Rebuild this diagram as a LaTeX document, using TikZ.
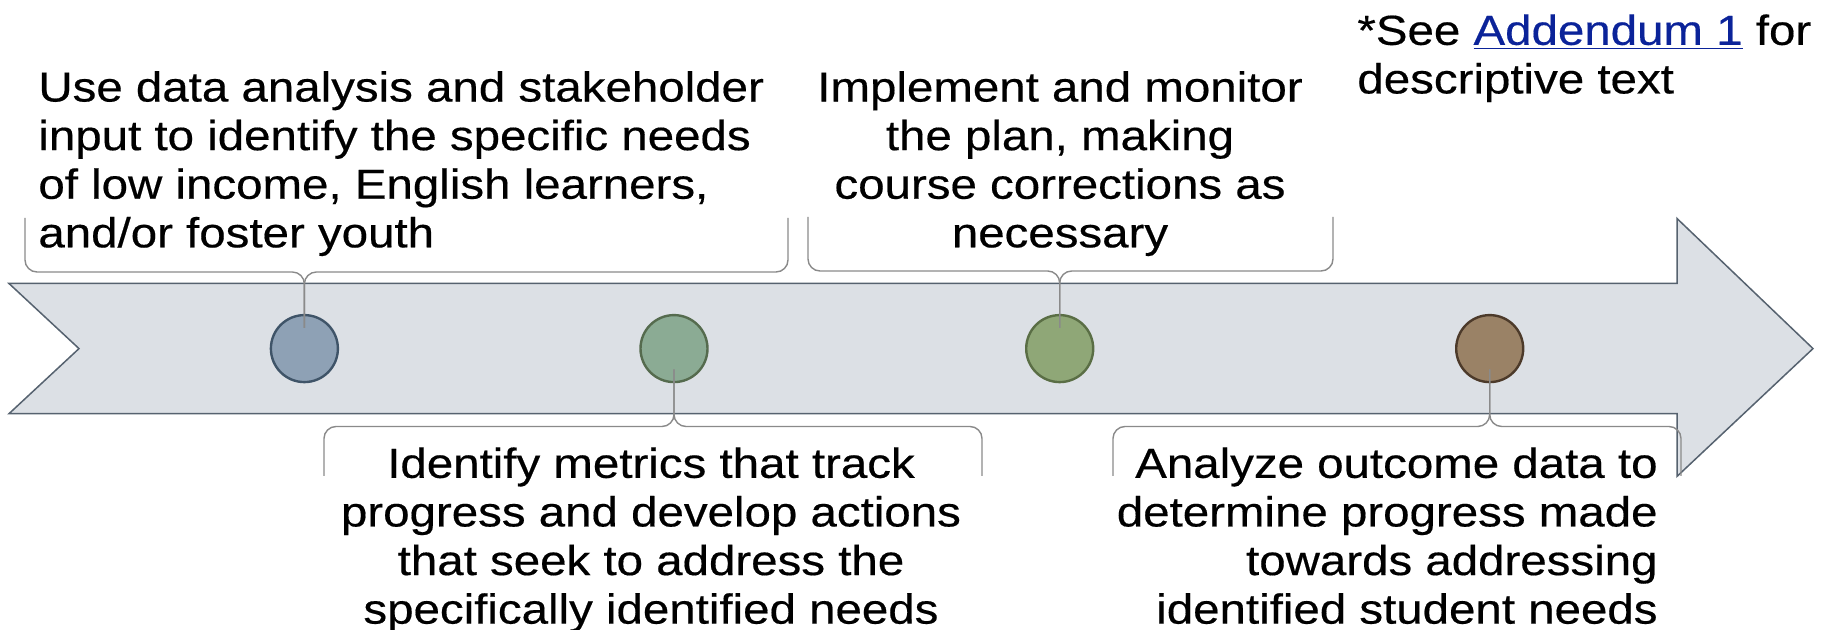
\documentclass[tikz,border=0pt]{standalone}
\usepackage{fontspec}
\setmainfont{Liberation Sans}[FakeStretch=1.13, FakeBold=0.4]
\usepackage{tikz}

\definecolor{bandfill}{HTML}{DCE0E5}
\definecolor{bandline}{HTML}{56626F}
\definecolor{braceline}{HTML}{8A8A8A}
\definecolor{linkblue}{HTML}{0B2399}

\begin{document}
\begin{tikzpicture}[x=0.5pt, y=-0.5pt]
    \tikzstyle{every node}=[inner sep=0pt, font=\fontsize{21}{24.3}\selectfont]
    \tikzstyle{dot}=[circle, minimum size=33.5pt, line width=1.2pt]
    \tikzstyle{brace}=[draw=braceline, line width=0.7pt, rounded corners=6pt]
    \useasboundingbox (0,0) rectangle (1822,630);
    % the band
    \draw[fill=bandfill, draw=bandline, line width=0.75pt] (9,283.5) -- (1677,283.5) -- (1677,218.5)
        -- (1813,348.6) -- (1677,476.4) -- (1677,413.7) -- (9,413.7) -- (79,348.6) -- cycle;
    % the dots
    \draw (304.4,348.6) node[dot, fill={rgb,255:red,142;green,161;blue,181}, draw={rgb,255:red,63;green,84;blue,104}] (pneeds) {};
    \draw (674,348.6) node[dot, fill={rgb,255:red,139;green,171;blue,148}, draw={rgb,255:red,85;green,107;blue,78}] (pmetrics) {};
    \draw (1059.7,348.6) node[dot, fill={rgb,255:red,143;green,167;blue,119}, draw={rgb,255:red,90;green,110;blue,69}] (pmonitor) {};
    \draw (1489.7,348.6) node[dot, fill={rgb,255:red,154;green,130;blue,102}, draw={rgb,255:red,76;green,58;blue,42}] (panalyze) {};
    % the texts
    \draw (38,70.7) node[anchor=north west, align=left] (needs) {Use data analysis and stakeholder\\input to identify the specific needs\\of low income, English learners,\\and/or foster youth};
    \draw (1060,70.7) node[anchor=north, align=center] (monitor) {Implement and monitor\\the plan, making\\course corrections as\\necessary};
    \draw (651,447) node[anchor=north, align=center] (metrics) {Identify metrics that track\\progress and develop actions\\that seek to address the\\specifically identified needs};
    \draw (1658,447) node[anchor=north east, align=right] (analyze) {Analyze outcome data to\\determine progress made\\towards addressing\\identified student needs};
    \draw (1357,14) node[anchor=north west, align=left] (note) {*See \textcolor{linkblue}{\underline{Addendum 1}} for\\descriptive text};
    % the braces
    \coordinate (needsl) at (25,218);
    \coordinate (needsr) at (788,218);
    \coordinate (monitorl) at (808,217);
    \coordinate (monitorr) at (1333,217);
    \coordinate (metricsl) at (324,476);
    \coordinate (metricsr) at (982,476);
    \coordinate (analyzel) at (1113,476);
    \coordinate (analyzer) at (1681,476);
    \draw[brace] (needsl) |- (pneeds |- 0,272) -- ([yshift=-7pt]pneeds.north);
    \draw[brace] (needsr) |- (pneeds |- 0,272) -- ([yshift=-7pt]pneeds.north);
    \draw[brace] (monitorl) |- (pmonitor |- 0,271) -- ([yshift=-7pt]pmonitor.north);
    \draw[brace] (monitorr) |- (pmonitor |- 0,271) -- ([yshift=-7pt]pmonitor.north);
    \draw[brace] (metricsl) |- (pmetrics |- 0,426.5) -- ([yshift=7pt]pmetrics.south);
    \draw[brace] (metricsr) |- (pmetrics |- 0,426.5) -- ([yshift=7pt]pmetrics.south);
    \draw[brace] (analyzel) |- (panalyze |- 0,426.5) -- ([yshift=7pt]panalyze.south);
    \draw[brace] (analyzer) |- (panalyze |- 0,426.5) -- ([yshift=7pt]panalyze.south);
\end{tikzpicture}
\end{document}
